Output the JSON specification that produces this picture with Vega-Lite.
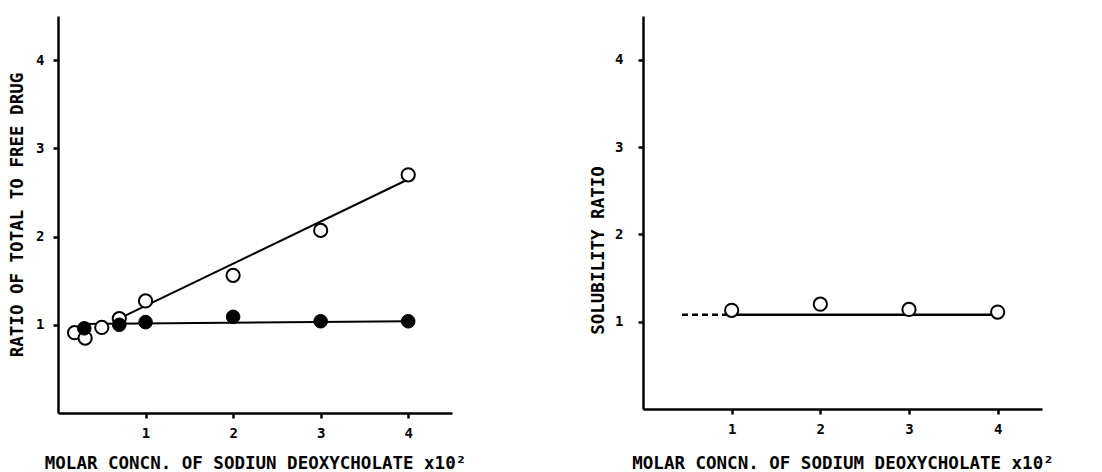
{
  "$schema": "https://vega.github.io/schema/vega-lite/v6.json",
  "background": "white",
  "padding": {"left": 8, "top": 16, "right": 5, "bottom": 5},
  "bounds": "flush",
  "spacing": 191,
  "config": {
    "view": {"stroke": null},
    "axis": {
      "grid": false,
      "ticks": true,
      "domainColor": "black",
      "domainWidth": 2.5,
      "tickColor": "black",
      "tickWidth": 2.5,
      "tickSize": 5,
      "labelFont": "DejaVu Sans Mono",
      "labelFontWeight": "bold",
      "labelFontSize": 14,
      "labelColor": "black",
      "titleFont": "DejaVu Sans Mono",
      "titleFontWeight": "bold",
      "titleFontSize": 17.5,
      "titleColor": "black"
    }
  },
  "datasets": {
    "left_points": [
      {"x": 0.19, "y": 0.91, "series": "open"},
      {"x": 0.31, "y": 0.85, "series": "open"},
      {"x": 0.5, "y": 0.97, "series": "open"},
      {"x": 0.7, "y": 1.07, "series": "open"},
      {"x": 1.0, "y": 1.27, "series": "open"},
      {"x": 2.0, "y": 1.56, "series": "open"},
      {"x": 3.0, "y": 2.07, "series": "open"},
      {"x": 4.0, "y": 2.7, "series": "open"},
      {"x": 0.3, "y": 0.96, "series": "filled"},
      {"x": 0.7, "y": 1.0, "series": "filled"},
      {"x": 1.0, "y": 1.03, "series": "filled"},
      {"x": 2.0, "y": 1.09, "series": "filled"},
      {"x": 3.0, "y": 1.04, "series": "filled"},
      {"x": 4.0, "y": 1.04, "series": "filled"}
    ],
    "left_lines": [
      {"x": 0.72, "y": 1.08, "line": "open fit"},
      {"x": 3.96, "y": 2.63, "line": "open fit"},
      {"x": 0.25, "y": 1.01, "line": "filled fit"},
      {"x": 4.0, "y": 1.04, "line": "filled fit"}
    ],
    "right_points": [
      {"x": 1.0, "y": 1.13},
      {"x": 2.0, "y": 1.2},
      {"x": 3.0, "y": 1.14},
      {"x": 4.0, "y": 1.11}
    ],
    "right_lines": [
      {"x": 1.0, "y": 1.08, "line": "solid"},
      {"x": 4.0, "y": 1.08, "line": "solid"},
      {"x": 0.44, "y": 1.08, "line": "dashed"},
      {"x": 0.95, "y": 1.08, "line": "dashed"}
    ]
  },
  "hconcat": [
    {
      "width": 394,
      "height": 397,
      "encoding": {
        "x": {"field": "x", "type": "quantitative", "scale": {"domain": [0, 4.5], "nice": false},
              "axis": {"values": [1, 2, 3, 4], "labelPadding": 8, "titlePadding": 14,
                       "title": "MOLAR CONCN. OF SODIUN DEOXYCHOLATE x10²"}},
        "y": {"field": "y", "type": "quantitative", "scale": {"domain": [0, 4.5], "nice": false},
              "axis": {"values": [1, 2, 3, 4], "labelPadding": 9, "titlePadding": 9,
                       "title": "RATIO OF TOTAL TO FREE DRUG"}}
      },
      "layer": [
        {
          "data": {"name": "left_lines"},
          "mark": {"type": "line", "color": "black", "strokeWidth": 2},
          "encoding": {"detail": {"field": "line"}}
        },
        {
          "data": {"name": "left_points"},
          "transform": [{"filter": "datum.series === 'open'"}],
          "mark": {"type": "point", "shape": "circle", "size": 175, "filled": true, "fill": "white", "stroke": "black", "strokeWidth": 2, "opacity": 1}
        },
        {
          "data": {"name": "left_points"},
          "transform": [{"filter": "datum.series === 'filled'"}],
          "mark": {"type": "point", "shape": "circle", "size": 185, "filled": true, "fill": "black", "stroke": "black", "strokeWidth": 1, "opacity": 1}
        }
      ]
    },
    {
      "width": 399,
      "height": 393,
      "encoding": {
        "x": {"field": "x", "type": "quantitative", "scale": {"domain": [0, 4.5], "nice": false},
              "axis": {"values": [1, 2, 3, 4], "labelPadding": 8, "titlePadding": 18,
                       "title": "MOLAR CONCN. OF SODIUM DEOXYCHOLATE x10²"}},
        "y": {"field": "y", "type": "quantitative", "scale": {"domain": [0, 4.5], "nice": false},
              "axis": {"values": [1, 2, 3, 4], "labelPadding": 15, "titlePadding": 7,
                       "title": "SOLUBILITY RATIO", "titleY": 234}}
      },
      "layer": [
        {
          "data": {"name": "right_lines"},
          "transform": [{"filter": "datum.line === 'solid'"}],
          "mark": {"type": "line", "color": "black", "strokeWidth": 2.5},
          "encoding": {}
        },
        {
          "data": {"name": "right_lines"},
          "transform": [{"filter": "datum.line === 'dashed'"}],
          "mark": {"type": "line", "color": "black", "strokeWidth": 2.5, "strokeDash": [6, 4]},
          "encoding": {}
        },
        {
          "data": {"name": "right_points"},
          "mark": {"type": "point", "shape": "circle", "size": 175, "filled": true, "fill": "white", "stroke": "black", "strokeWidth": 2, "opacity": 1}
        }
      ]
    }
  ]
}
